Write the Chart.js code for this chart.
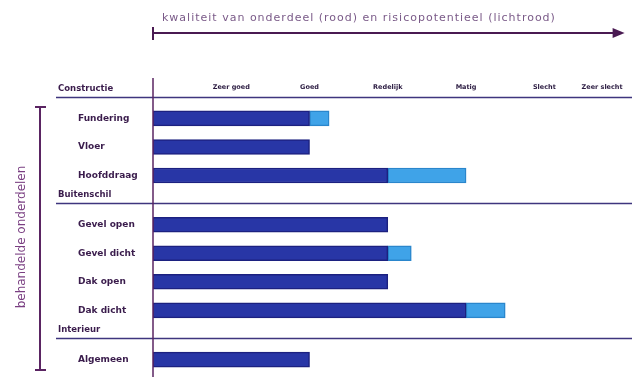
<!DOCTYPE html>
<html lang="nl">
<head>
<meta charset="utf-8">
<title>Kwaliteit en risicopotentieel per onderdeel</title>
<script src="https://cdn.jsdelivr.net/npm/chart.js@4.4.1/dist/chart.umd.min.js"></script>
<style>
  html, body { margin: 0; padding: 0; background: #ffffff; }
  #wrap { width: 632px; height: 377px; position: relative; }
</style>
</head>
<body>
<div id="wrap"><canvas id="chart" width="632" height="377"></canvas></div>
<script>
// Treated building parts, grouped into sections
const categories = ['Fundering', 'Vloer', 'Hoofddraag', 'Gevel open', 'Gevel dicht', 'Dak open', 'Dak dicht', 'Algemeen'];
const sections = ['Constructie', 'Buitenschil', 'Interieur'];
const sectionOf = [0, 0, 0, 1, 1, 1, 1, 2];

// Quality rating (1 = zeer goed ... 6 = zeer slecht) and extra risk potential on top of it
const quality = [2, 2, 3, 3, 3, 3, 4, 2];
const risk = [0.25, 0, 1, 0, 0.3, 0, 0.5, 0];

// Rating scale labels
const ratingLabels = ['Zeer goed', 'Goed', 'Redelijk', 'Matig', 'Slecht', 'Zeer slecht'];

const titleText = 'kwaliteit van onderdeel (rood) en risicopotentieel (lichtrood)';
const sideText = 'behandelde onderdelen';

// Row positions: one unit per part, an extra gap between sections
const GROUP_GAP = 0.73;
const rowPos = categories.map((_, i) => i + sectionOf[i] * GROUP_GAP);

const INK = '#3a1c4c';
const PURPLE = '#5a2462';

const decorations = {
  id: 'decorations',
  afterDatasetsDraw(chart) {
    const { ctx, scales: { x, y } } = chart;
    const x0 = x.getPixelForValue(0);
    ctx.save();

    // section separators and headings
    sections.forEach((name, s) => {
      const first = sectionOf.indexOf(s);
      const lineY = Math.round(y.getPixelForValue(rowPos[first] - 0.76)) + 0.5;
      ctx.strokeStyle = '#3e357e';
      ctx.lineWidth = 1.5;
      ctx.beginPath();
      ctx.moveTo(56, lineY);
      ctx.lineTo(chart.width, lineY);
      ctx.stroke();
      ctx.fillStyle = INK;
      ctx.font = 'bold 8.5px "DejaVu Sans"';
      ctx.textAlign = 'left';
      ctx.textBaseline = 'middle';
      ctx.fillText(name, 58, y.getPixelForValue(rowPos[first] - 1.05));
    });

    // part names
    ctx.font = 'bold 9px "DejaVu Sans"';
    ctx.fillStyle = INK;
    categories.forEach((c, i) => {
      ctx.fillText(c, 78, y.getPixelForValue(rowPos[i]));
    });

    // value axis line
    ctx.strokeStyle = PURPLE;
    ctx.lineWidth = 1.5;
    ctx.beginPath();
    ctx.moveTo(x0, 78);
    ctx.lineTo(x0, chart.height);
    ctx.stroke();

    // bracket on the left
    ctx.lineWidth = 2;
    ctx.beginPath();
    ctx.moveTo(40, 107); ctx.lineTo(40, 370);
    ctx.moveTo(35, 107); ctx.lineTo(46, 107);
    ctx.moveTo(35, 370); ctx.lineTo(46, 370);
    ctx.stroke();
    ctx.save();
    ctx.translate(22, 237);
    ctx.rotate(-Math.PI / 2);
    ctx.fillStyle = '#7a3f82';
    ctx.font = '12px "DejaVu Sans"';
    ctx.textAlign = 'center';
    ctx.textBaseline = 'middle';
    ctx.fillText(sideText, 0, 0);
    ctx.restore();

    // arrow along the top
    const xEnd = x.getPixelForValue(6);
    ctx.strokeStyle = '#4a1a52';
    ctx.lineWidth = 2;
    ctx.beginPath();
    ctx.moveTo(x0, 33); ctx.lineTo(xEnd - 6, 33);
    ctx.moveTo(x0, 27); ctx.lineTo(x0, 40);
    ctx.stroke();
    ctx.fillStyle = '#4a1a52';
    ctx.beginPath();
    ctx.moveTo(xEnd + 2, 33);
    ctx.lineTo(xEnd - 10, 28);
    ctx.lineTo(xEnd - 10, 38);
    ctx.closePath();
    ctx.fill();

    ctx.fillStyle = '#7a5a88';
    ctx.font = '11px "DejaVu Sans"';
    ctx.textAlign = 'left';
    ctx.textBaseline = 'middle';
    if ('letterSpacing' in ctx) ctx.letterSpacing = '1px';
    ctx.fillText(titleText, 162, 18);
    ctx.restore();
  }
};

new Chart(document.getElementById('chart'), {
  type: 'bar',
  data: {
    datasets: [
      {
        label: 'kwaliteit',
        data: quality.map((v, i) => ({ x: v, y: rowPos[i] })),
        backgroundColor: '#2836a6',
        borderColor: '#1c2180',
        borderWidth: 1.5,
        borderSkipped: false,
        barThickness: 15
      },
      {
        label: 'risicopotentieel',
        data: risk.map((v, i) => ({ x: v > 0 ? v : null, y: rowPos[i] })),
        backgroundColor: '#3fa3e8',
        borderColor: '#2a86cc',
        borderWidth: 1.5,
        borderSkipped: false,
        barThickness: 15
      }
    ]
  },
  options: {
    indexAxis: 'y',
    responsive: false,
    animation: false,
    devicePixelRatio: 1,
    layout: { autoPadding: false, padding: { left: 153, top: 81, right: 0, bottom: 0 } },
    plugins: {
      legend: { display: false },
      tooltip: { enabled: false },
      title: { display: false }
    },
    scales: {
      x: {
        type: 'linear',
        position: 'top',
        min: 0,
        max: 6.12,
        stacked: true,
        grid: { display: false, drawTicks: false },
        border: { display: false },
        afterBuildTicks(scale) {
          // an unlabelled tick at 0, then one tick per rating
          scale.ticks = [{ value: 0 }].concat(ratingLabels.map((_, i) => ({ value: i + 1 })));
        },
        afterFit(scale) {
          // let the outer rating labels overhang the plot edges
          scale.paddingLeft = 0;
          scale.paddingRight = 0;
        },
        ticks: {
          padding: 2,
          maxRotation: 0,
          autoSkip: false,
          align: 'inner',
          color: '#2a1a40',
          font: { family: '"DejaVu Sans"', size: 6.5, weight: 'bold' },
          callback: (v) => ratingLabels[v - 1] || ''
        }
      },
      y: {
        type: 'linear',
        display: false,
        reverse: true,
        stacked: true,
        offset: false,
        min: rowPos[0] - 0.9,
        max: rowPos[rowPos.length - 1] + 0.61
      }
    }
  },
  plugins: [decorations]
});
</script>
</body>
</html>
